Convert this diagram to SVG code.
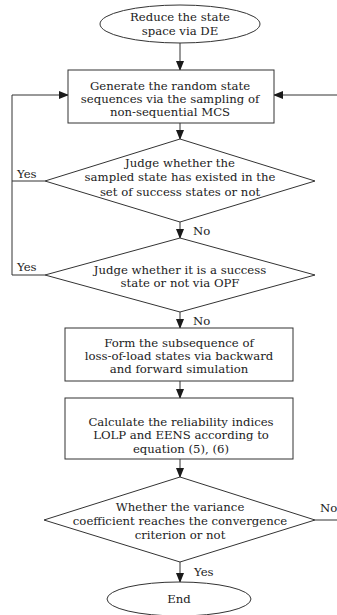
<svg xmlns="http://www.w3.org/2000/svg" width="337" height="615" viewBox="0 0 337 615">
<defs>
<marker id="ah" markerWidth="10" markerHeight="8" refX="9" refY="4" orient="auto" markerUnits="userSpaceOnUse">
<path d="M0,0 L10,4 L0,8 Z" fill="#1a1a1a"/>
</marker>
</defs>
<style>
.s{fill:#fff;stroke:#333;stroke-width:1}
.t{font-family:"DejaVu Serif","Liberation Serif",serif;font-size:11.7px;fill:#222;text-anchor:middle}
.l{font-family:"DejaVu Serif","Liberation Serif",serif;font-size:11.7px;fill:#222}
.c{fill:none;stroke:#333;stroke-width:1}
</style>
<rect width="337" height="615" fill="#fff"/>
<g id="connectors">
<line class="c" x1="180" y1="43" x2="180" y2="70" marker-end="url(#ah)"/>
<line class="c" x1="180" y1="123" x2="180" y2="139" marker-end="url(#ah)"/>
<line class="c" x1="180" y1="222" x2="180" y2="238" marker-end="url(#ah)"/>
<line class="c" x1="180" y1="312" x2="180" y2="328" marker-end="url(#ah)"/>
<line class="c" x1="180" y1="381" x2="180" y2="398" marker-end="url(#ah)"/>
<line class="c" x1="180" y1="459" x2="180" y2="477" marker-end="url(#ah)"/>
<line class="c" x1="180" y1="562" x2="180" y2="582" marker-end="url(#ah)"/>
<polyline class="c" points="45,181 12,181"/>
<polyline class="c" points="45,275 12,275 12,95 68,95" marker-end="url(#ah)"/>
<line class="c" x1="337" y1="95" x2="274" y2="95" marker-end="url(#ah)"/>
<line class="c" x1="315" y1="520" x2="337" y2="520"/>
<text class="l" x="17" y="178">Yes</text>
<text class="l" x="17" y="271">Yes</text>
<text class="l" x="193" y="235">No</text>
<text class="l" x="193" y="325">No</text>
<text class="l" x="320" y="512">No</text>
<text class="l" x="194" y="576">Yes</text>
</g>
<g id="start">
<ellipse class="s" cx="180" cy="24" rx="80" ry="19"/>
<text class="t" x="180" y="21">Reduce the state</text>
<text class="t" x="180" y="35">space via DE</text>
</g>
<g id="generate">
<rect class="s" x="68" y="70" width="206" height="53"/>
<text class="t" x="170" y="90">Generate the random state</text>
<text class="t" x="170" y="103">sequences via the sampling of</text>
<text class="t" x="170" y="116">non-sequential MCS</text>
</g>
<g id="judge1">
<polygon class="s" points="180,139 315,181 180,222 45,181"/>
<text class="t" x="180" y="167">Judge whether the</text>
<text class="t" x="180" y="181">sampled state has existed in the</text>
<text class="t" x="180" y="196">set of success states or not</text>
</g>
<g id="judge2">
<polygon class="s" points="180,238 315,275 180,312 45,275"/>
<text class="t" x="180" y="274">Judge whether it is a success</text>
<text class="t" x="180" y="287">state or not via OPF</text>
</g>
<g id="form">
<rect class="s" x="65" y="328" width="228" height="53"/>
<text class="t" x="179" y="347">Form the subsequence of</text>
<text class="t" x="179" y="360">loss-of-load states via backward</text>
<text class="t" x="179" y="373">and forward simulation</text>
</g>
<g id="calculate">
<rect class="s" x="65" y="398" width="228" height="61"/>
<text class="t" x="181" y="426">Calculate the reliability indices</text>
<text class="t" x="181" y="439">LOLP and EENS according to</text>
<text class="t" x="181" y="453">equation (5), (6)</text>
</g>
<g id="variance">
<polygon class="s" points="180,477 315,520 180,562 44,520"/>
<text class="t" x="180" y="511">Whether the variance</text>
<text class="t" x="180" y="525">coefficient reaches the convergence</text>
<text class="t" x="180" y="539">criterion or not</text>
</g>
<g id="end">
<ellipse class="s" cx="179" cy="599" rx="72" ry="17"/>
<text class="t" x="179" y="603">End</text>
</g>
</svg>
